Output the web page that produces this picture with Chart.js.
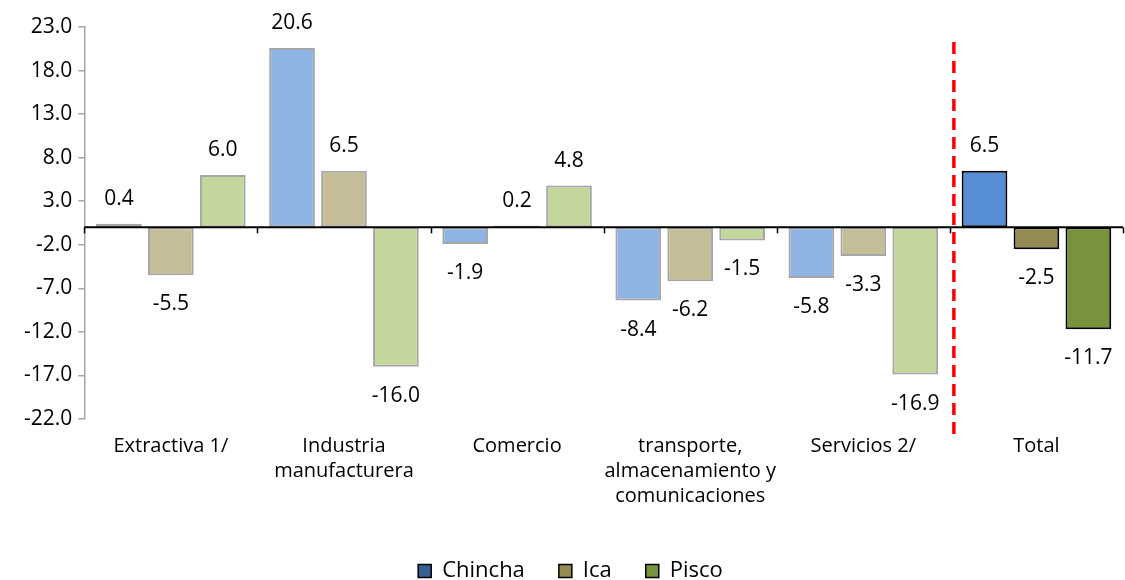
<!DOCTYPE html>
<html><head><meta charset="utf-8">
<script src="https://cdn.jsdelivr.net/npm/chart.js@4.4.0/dist/chart.umd.min.js"></script>
<style>html,body{margin:0;padding:0;background:#fff}#wrap{width:1125px;height:580px}</style>
</head><body><div id="wrap"><canvas id="c" width="1125" height="580"></canvas></div>
<script>
const categories = [["Extractiva 1/"], ["Industria","manufacturera"], ["Comercio"], ["transporte,","almacenamiento y","comunicaciones"], ["Servicios 2/"], ["Total"]];
const seriesNames = ["Chincha", "Ica", "Pisco"];
const chincha = [0.4, 20.6, -1.9, -8.4, -5.8, 6.5];
const ica = [-5.5, 6.5, 0.2, -6.2, -3.3, -2.5];
const pisco = [6.0, -16.0, 4.8, -1.5, -16.9, -11.7];
const yTicks = [-22, -17, -12, -7, -2, 3, 8, 13, 18, 23];

const FONT = "Open Sans";
const lightFill = ["#8EB4E3", "#C4BD97", "#C3D69B"];
const darkFill = ["#558ED5", "#948A54", "#77933C"];
const legendFill = ["#376092", "#948A54", "#77933C"];

function mk(i, data) {
  return {
    label: seriesNames[i],
    data: data,
    backgroundColor: data.map((v, k) => k === data.length - 1 ? darkFill[i] : lightFill[i]),
    borderColor: data.map((v, k) => k === data.length - 1 ? "#000000" : "#A6A6A6"),
    borderWidth: 2,
    borderSkipped: false,
    categoryPercentage: 0.9,
    barPercentage: 0.88
  };
}

const overlay = {
  id: "overlay",
  afterDatasetsDraw(chart) {
    const ctx = chart.ctx, x = chart.scales.x, y = chart.scales.y, ca = chart.chartArea;
    const y0 = y.getPixelForValue(0);
    ctx.save();
    ctx.strokeStyle = "#000"; ctx.lineWidth = 2;
    ctx.beginPath(); ctx.moveTo(ca.left, y0); ctx.lineTo(ca.right, y0); ctx.stroke();
    const n = categories.length;
    const w = (ca.right - ca.left) / n;
    ctx.lineWidth = 1.5;
    for (let i = 0; i <= n; i++) {
      const px = Math.round(ca.left + i * w) + 0.5;
      ctx.beginPath(); ctx.moveTo(px, y0); ctx.lineTo(px, y0 + 6); ctx.stroke();
    }
    const rx = ca.left + 5 * w + 4;
    ctx.strokeStyle = "#FF0000"; ctx.lineWidth = 3.5; ctx.setLineDash([12, 7]);
    ctx.beginPath(); ctx.moveTo(rx, ca.top + 15); ctx.lineTo(rx, ca.bottom + 20); ctx.stroke();
    ctx.setLineDash([]);
    ctx.fillStyle = "#000"; ctx.font = "21px '" + FONT + "'";
    ctx.textAlign = "center"; ctx.textBaseline = "middle";
    chart.data.datasets.forEach((ds, di) => {
      const meta = chart.getDatasetMeta(di);
      meta.data.forEach((bar, k) => {
        const v = ds.data[k];
        const ty = v >= 0 ? bar.y - 25 : bar.y + 29;
        ctx.fillText(v.toFixed(1), bar.x, ty);
      });
    });
    ctx.restore();
  }
};

new Chart(document.getElementById("c"), {
  type: "bar",
  data: { labels: categories, datasets: [mk(0, chincha), mk(1, ica), mk(2, pisco)] },
  options: {
    responsive: false, animation: false,
    layout: { padding: { top: 27, right: 2, left: 18, bottom: -12 } },
    plugins: {
      tooltip: { enabled: false },
      legend: {
        position: "bottom",
        labels: {
          font: { family: FONT, size: 22 }, color: "#000",
          boxWidth: 13, boxHeight: 13, padding: 34,
          generateLabels: () => seriesNames.map((n, i) => ({
            text: n, fillStyle: legendFill[i], strokeStyle: "#000", lineWidth: 1.5, datasetIndex: i, fontColor: "#000"
          }))
        }
      }
    },
    scales: {
      x: {
        afterFit: (s) => { s.height = 107; },
        grid: { display: false, drawTicks: false },
        border: { display: false },
        ticks: { font: { family: FONT, size: 20, lineHeight: 1.25 }, color: "#000", maxRotation: 0, autoSkip: false, padding: 15 }
      },
      y: {
        min: -22, max: 23,
        afterBuildTicks: (s) => { s.ticks = yTicks.map(v => ({ value: v })); },
        grid: { drawOnChartArea: false, color: "#A6A6A6", tickLength: 6, lineWidth: 1.5 },
        border: { color: "#A6A6A6", width: 1.5 },
        ticks: { font: { family: FONT, size: 21 }, color: "#000", padding: 6, callback: v => Number(v).toFixed(1) }
      }
    }
  },
  plugins: [overlay]
});
</script></body></html>
